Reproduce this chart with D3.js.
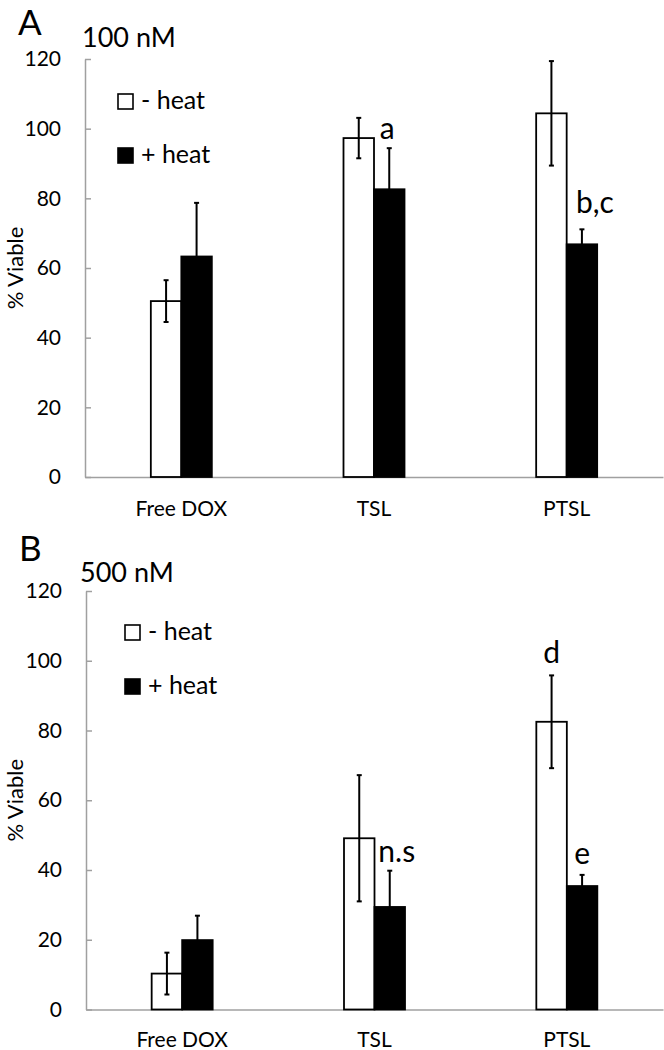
<!DOCTYPE html>
<html>
<head>
<meta charset="utf-8">
<script src="https://cdn.jsdelivr.net/npm/d3@7/dist/d3.min.js"></script>
<style>
  html, body { margin: 0; padding: 0; background: #fff; }
  svg { display: block; font-family: Lato, "Open Sans", sans-serif; }
</style>
</head>
<body>
<svg id="chart" width="664" height="1050"></svg>
<script>
// ---- data ----
const categories = ["Free DOX", "TSL", "PTSL"];
const seriesNames = ["- heat", "+ heat"];
const yTicks = [0, 20, 40, 60, 80, 100, 120];

const panelLetters = ["A", "B"];
const panelTitles = ["100 nM", "500 nM"];

// Panel A (100 nM)
const a_minusHeat = [50.5, 97.3, 104.4];
const a_minusHeatErr = [6.0, 5.8, 15.0];
const a_plusHeat = [63.3, 82.6, 66.8];
const a_plusHeatErr = [15.4, 11.8, 4.3];
const a_labels = [
  { cat: "TSL", series: 1, text: "a" },
  { cat: "PTSL", series: 1, text: "b,c" }
];

// Panel B (500 nM)
const b_minusHeat = [10.3, 49.1, 82.5];
const b_minusHeatErr = [6.0, 18.1, 13.3];
const b_plusHeat = [19.9, 29.4, 35.4];
const b_plusHeatErr = [7.0, 10.4, 3.2];
const b_labels = [
  { cat: "PTSL", series: 0, text: "d" },
  { cat: "TSL", series: 1, text: "n.s" },
  { cat: "PTSL", series: 1, text: "e" }
];

// ---- layout (not data) ----
const panels = [
  { top: 59, bottom: 477, left: 85, right: 663,
    values: [a_minusHeat, a_plusHeat], errs: [a_minusHeatErr, a_plusHeatErr], labels: a_labels,
    letter: { x: 18, y: 35 }, title: { x: 82, y: 47 }, legend: { x: 117, y: 93 },
    nudges: { "a": [-2, -9], "b,c": [13, -16] }, xLabelDy: 39 },
  { top: 591, bottom: 1009.5, left: 86, right: 663,
    values: [b_minusHeat, b_plusHeat], errs: [b_minusHeatErr, b_plusHeatErr], labels: b_labels,
    letter: { x: 19, y: 561 }, title: { x: 80, y: 582 }, legend: { x: 124, y: 624 },
    nudges: { "d": [0, -12], "n.s": [7, -9], "e": [0, -11] }, xLabelDy: 37 }
];

const svg = d3.select("#chart");
const axisColor = "#a0a0a0";
const barW = 30.5;

panels.forEach((p, pi) => {
  const g = svg.append("g");
  const x = d3.scaleBand().domain(categories).range([p.left, p.right]).padding(0);
  const y = d3.scaleLinear().domain([0, 120]).range([p.bottom, p.top]);

  // y axis
  const yAxis = d3.axisLeft(y).tickValues(yTicks).tickSize(-6).tickSizeOuter(0).tickPadding(24);
  const ya = g.append("g").attr("transform", `translate(${p.left},0)`).call(yAxis);
  ya.select(".domain").attr("stroke", axisColor).attr("stroke-width", 1.5);
  ya.selectAll(".tick line").attr("stroke", axisColor).attr("stroke-width", 1.5);
  ya.selectAll(".tick text").attr("font-size", 21).attr("font-family", "Lato").attr("fill", "#000");

  // x axis
  const xAxis = d3.axisBottom(x).tickSize(0).tickSizeOuter(0).tickPadding(p.xLabelDy);
  const xa = g.append("g").attr("transform", `translate(0,${p.bottom})`).call(xAxis);
  xa.select(".domain").attr("stroke", axisColor).attr("stroke-width", 1.5);
  xa.selectAll(".tick text").attr("font-size", 21).attr("font-family", "Lato").attr("fill", "#000")
    .attr("dy", 0).attr("dominant-baseline", "auto");

  // bars
  p.values.forEach((vals, si) => {
    const cx = c => x(c) + x.bandwidth() / 2;
    const bx = c => si === 0 ? cx(c) - barW : cx(c);
    g.append("g").selectAll("rect").data(categories).join("rect")
      .attr("x", c => bx(c))
      .attr("y", (c, i) => y(vals[i]))
      .attr("width", barW)
      .attr("height", (c, i) => y(0) - y(vals[i]))
      .attr("fill", si === 0 ? "#fff" : "#000")
      .attr("stroke", "#000").attr("stroke-width", 1.8);

    // error bars
    const errs = p.errs[si];
    const eg = g.append("g").attr("stroke", "#000").attr("stroke-width", 2);
    categories.forEach((c, i) => {
      const ex = bx(c) + barW / 2;
      const hi = y(vals[i] + errs[i]);
      const lo = y(vals[i] - errs[i]);
      eg.append("line").attr("x1", ex).attr("x2", ex).attr("y1", hi).attr("y2", lo);
      eg.append("line").attr("x1", ex - 2.5).attr("x2", ex + 2.5).attr("y1", hi).attr("y2", hi);
      eg.append("line").attr("x1", ex - 2.5).attr("x2", ex + 2.5).attr("y1", lo).attr("y2", lo);
    });
  });

  // significance labels
  p.labels.forEach(l => {
    const i = categories.indexOf(l.cat);
    const cx = x(l.cat) + x.bandwidth() / 2 + (l.series === 0 ? -barW / 2 : barW / 2);
    const top = y(p.values[l.series][i] + p.errs[l.series][i]);
    const n = p.nudges[l.text] || [0, -10];
    g.append("text").attr("x", cx + n[0]).attr("y", top + n[1])
      .attr("text-anchor", "middle").attr("font-size", 30).attr("fill", "#000").text(l.text);
  });

  // legend
  seriesNames.forEach((s, si) => {
    const ly = p.legend.y + si * 54;
    g.append("rect").attr("x", p.legend.x + 1).attr("y", ly + 1).attr("width", 15).attr("height", 15)
      .attr("fill", si === 0 ? "#fff" : "#000").attr("stroke", "#000").attr("stroke-width", 1.6);
    g.append("text").attr("x", p.legend.x + 24).attr("y", ly + 16)
      .attr("font-size", 25).attr("fill", "#000").text(s);
  });

  // y label
  g.append("text")
    .attr("transform", `translate(23,${(p.top + p.bottom) / 2}) rotate(-90)`)
    .attr("text-anchor", "middle").attr("font-size", 22).attr("fill", "#000").text("% Viable");

  // panel letter & title
  g.append("text").attr("x", p.letter.x).attr("y", p.letter.y).attr("font-size", 35).attr("fill", "#000").text(panelLetters[pi]);
  g.append("text").attr("x", p.title.x).attr("y", p.title.y).attr("font-size", 27).attr("fill", "#000").text(panelTitles[pi]);
});
</script>
</body>
</html>
